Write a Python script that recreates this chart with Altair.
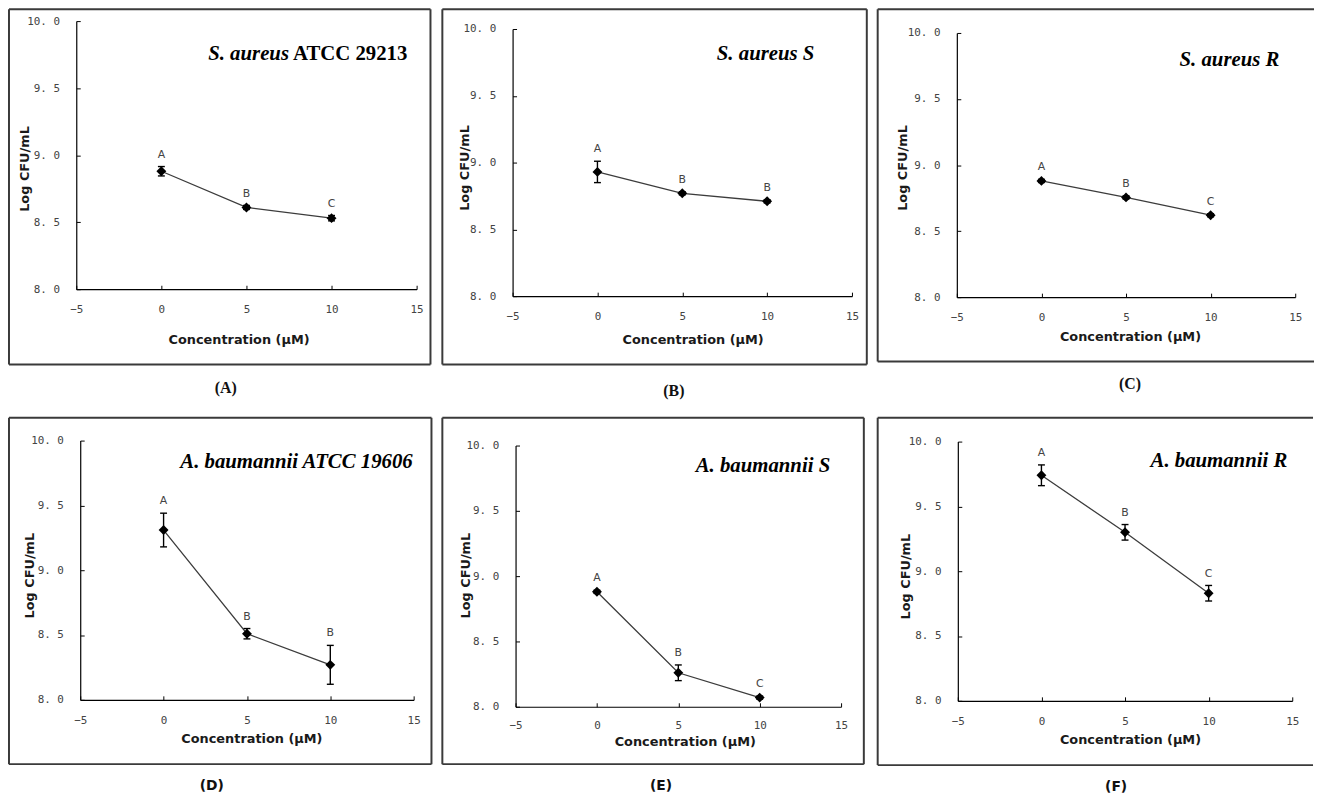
import altair as alt
import pandas as pd

# ---------------- data ----------------
conc = [0, 5, 10]
x_ticks = [-5, 0, 5, 10, 15]
y_ticks = [8.0, 8.5, 9.0, 9.5, 10.0]

panel_ids = ["A", "B", "C", "D", "E", "F"]
panel_labels = ["(A)", "(B)", "(C)", "(D)", "(E)", "(F)"]
title_italic = ["S. aureus", "S. aureus S", "S. aureus R",
                "A. baumannii ATCC 19606", "A. baumannii S", "A. baumannii R"]
title_upright = ["ATCC 29213", "", "", "", "", ""]

sa_atcc_mean = [8.88, 8.61, 8.53]
sa_atcc_err = [0.035, 0.015, 0.02]
sa_atcc_letters = ["A", "B", "C"]

sa_s_mean = [8.93, 8.77, 8.71]
sa_s_err = [0.08, 0.012, 0.012]
sa_s_letters = ["A", "B", "B"]

sa_r_mean = [8.88, 8.755, 8.62]
sa_r_err = [0.012, 0.012, 0.012]
sa_r_letters = ["A", "B", "C"]

ab_atcc_mean = [9.31, 8.51, 8.27]
ab_atcc_err = [0.13, 0.04, 0.15]
ab_atcc_letters = ["A", "B", "B"]

ab_s_mean = [8.88, 8.26, 8.07]
ab_s_err = [0.012, 0.06, 0.012]
ab_s_letters = ["A", "B", "C"]

ab_r_mean = [9.74, 9.30, 8.83]
ab_r_err = [0.08, 0.06, 0.06]
ab_r_letters = ["A", "B", "C"]

means = [sa_atcc_mean, sa_s_mean, sa_r_mean, ab_atcc_mean, ab_s_mean, ab_r_mean]
errs = [sa_atcc_err, sa_s_err, sa_r_err, ab_atcc_err, ab_s_err, ab_r_err]
letters = [sa_atcc_letters, sa_s_letters, sa_r_letters,
           ab_atcc_letters, ab_s_letters, ab_r_letters]

# ---------------- layout / style ----------------
# All positions are pixels relative to the top-left corner of each panel's frame.
# L/T: plot-area offset inside the frame, W/H: plot size, R/B: frame margins.
layout = {
    "A": dict(L=68, W=344, R=14, T=12, H=271, B=76, right=True, sx=283, sy=45,
              lx=219, ly=383, xtx=232, xty=45, ytx=-45, yty=161, serif=True, lpad=15),
    "B": dict(L=71, W=343, R=15, T=20, H=270, B=69, right=True, sx=376, sy=45,
              lx=234, ly=386, xtx=253, xty=38, ytx=-42, yty=160, serif=True, lpad=15),
    "C": dict(L=80, W=342, R=19, T=24, H=267, B=65, right=False, sx=406, sy=51,
              lx=255, ly=379, xtx=255, xty=34, ytx=-48, yty=160, serif=True, lpad=15),
    "D": dict(L=72, W=337, R=18, T=23, H=262, B=65, right=True, sx=408, sy=45,
              lx=205, ly=372, xtx=245, xty=33, ytx=-44, yty=159, serif=False, lpad=15),
    "E": dict(L=74, W=329, R=23, T=28, H=264, B=58, right=True, sx=392, sy=49,
              lx=221, ly=372, xtx=245, xty=29, ytx=-44, yty=159, serif=False, lpad=13),
    "F": dict(L=81, W=338, R=21, T=24, H=262, B=65, right=False, sx=414, sy=44,
              lx=241, ly=373, xtx=255, xty=33, ytx=-46, yty=160, serif=False, lpad=15),
}

BORDER = "#3a3a3a"
one_row = [{"k": 1}]


def border_layers(p):
    L, W, R, T, H, B = p["L"], p["W"], p["R"], p["T"], p["H"], p["B"]
    right_x = L + W + R
    bottom_y = T + H + B
    base = alt.Chart(alt.Data(values=one_row))
    out = [
        base.mark_rule(color=BORDER, strokeWidth=2).encode(
            x=alt.value(0), x2=alt.value(right_x), y=alt.value(0)),
        base.mark_rule(color=BORDER, strokeWidth=2).encode(
            x=alt.value(0), x2=alt.value(right_x), y=alt.value(bottom_y)),
        base.mark_rule(color=BORDER, strokeWidth=2).encode(
            x=alt.value(0), y=alt.value(0), y2=alt.value(bottom_y)),
    ]
    if p["right"]:
        out.append(base.mark_rule(color=BORDER, strokeWidth=2).encode(
            x=alt.value(right_x), y=alt.value(0), y2=alt.value(bottom_y)))
    return out


def panel(i):
    p = layout[panel_ids[i]]
    L, W, T, H = p["L"], p["W"], p["T"], p["H"]
    df = pd.DataFrame({
        "x": conc,
        "y": means[i],
        "lo": [m - e for m, e in zip(means[i], errs[i])],
        "hi": [m + e for m, e in zip(means[i], errs[i])],
        "lab": letters[i],
    })
    xs = alt.Scale(domain=[-5, 15], nice=False, zero=False, range=[L, L + W])
    ys = alt.Scale(domain=[8, 10], nice=False, zero=False, range=[T + H, T])
    base = alt.Chart(df)

    x_axis = alt.Axis(values=x_ticks, ticks=False, grid=False, domainColor="#000",
                      domainWidth=1.2, labelFont="DejaVu Sans Mono", labelFontSize=11,
                      labelColor="#444", labelPadding=p["lpad"], labelFlush=False,
                      title="Concentration (µM)", titleFont="DejaVu Sans",
                      titleFontSize=13, titleFontWeight="bold", titleColor="#1a1a1a",
                      titleX=p["xtx"], titleY=p["xty"])
    y_axis = alt.Axis(values=y_ticks, ticks=False, grid=False, domainColor="#000",
                      domainWidth=1.2, offset=-L,
                      labelFont="DejaVu Sans Mono", labelFontSize=11,
                      labelColor="#444", labelPadding=17, labelFlush=False,
                      labelExpr="replace(format(datum.value, '.1f'), '.', '. ')",
                      title="Log CFU/mL", titleFont="DejaVu Sans", titleFontSize=13,
                      titleFontWeight="bold", titleColor="#1a1a1a",
                      titleX=p["ytx"], titleY=p["yty"])

    line = base.mark_line(color="#3c3c3c", strokeWidth=1.3).encode(
        x=alt.X("x:Q", scale=xs, axis=x_axis),
        y=alt.Y("y:Q", scale=ys, axis=y_axis),
    )
    # inward tick marks (Excel style) via secondary axes moved onto the plot edges
    pts = base.mark_point(shape="diamond", filled=True, size=100, color="#000",
                          opacity=1).encode(
        x=alt.X("x:Q", scale=xs,
                axis=alt.Axis(orient="top", offset=-(T + H), values=x_ticks,
                              labels=False, domain=False, ticks=True, tickSize=4,
                              tickColor="#000", tickWidth=1, title=None, grid=False)),
        y=alt.Y("y:Q", scale=ys,
                axis=alt.Axis(orient="right", offset=-W, values=y_ticks, labels=False,
                              domain=False, ticks=True, tickSize=4, tickColor="#000",
                              tickWidth=1, title=None, grid=False)),
    )
    err = base.mark_rule(color="#000", strokeWidth=1.4).encode(
        x=alt.X("x:Q", scale=xs, axis=None),
        y=alt.Y("lo:Q", scale=ys, axis=None),
        y2="hi:Q",
    )
    cap_lo = base.mark_rule(color="#000", strokeWidth=1.4, xOffset=-3.5,
                            x2Offset=3.5).encode(
        x=alt.X("x:Q", scale=xs, axis=None), x2="x:Q",
        y=alt.Y("lo:Q", scale=ys, axis=None),
    )
    cap_hi = base.mark_rule(color="#000", strokeWidth=1.4, xOffset=-3.5,
                            x2Offset=3.5).encode(
        x=alt.X("x:Q", scale=xs, axis=None), x2="x:Q",
        y=alt.Y("hi:Q", scale=ys, axis=None),
    )
    lett = base.mark_text(dy=-12, font="DejaVu Sans", fontSize=11,
                          color="#444").encode(
        x=alt.X("x:Q", scale=xs, axis=None),
        y=alt.Y("hi:Q", scale=ys, axis=None),
        text="lab:N",
    )

    layers = border_layers(p) + [line, err, cap_lo, cap_hi, pts, lett]

    # species title
    ital = dict(baseline="middle", font="Liberation Serif", fontSize=21,
                fontStyle="italic", fontWeight="bold", color="#000")
    if title_upright[i]:
        layers.append(alt.Chart(alt.Data(values=[{"t": title_italic[i]}])).mark_text(
            align="right", **ital).encode(
            x=alt.value(p["sx"]), y=alt.value(p["sy"]), text="t:N"))
        layers.append(alt.Chart(alt.Data(values=[{"t": title_upright[i]}])).mark_text(
            align="left", baseline="middle", font="Liberation Serif", fontSize=21,
            fontWeight="bold", color="#000").encode(
            x=alt.value(p["sx"] + 4), y=alt.value(p["sy"]), text="t:N"))
    else:
        layers.append(alt.Chart(alt.Data(values=[{"t": title_italic[i]}])).mark_text(
            align="right", **ital).encode(
            x=alt.value(p["sx"]), y=alt.value(p["sy"]), text="t:N"))

    # panel label
    if p["serif"]:
        lab_font, lab_size = "Liberation Serif", 16
    else:
        lab_font, lab_size = "DejaVu Sans", 14
    layers.append(alt.Chart(alt.Data(values=[{"t": panel_labels[i]}])).mark_text(
        align="center", baseline="middle", font=lab_font, fontSize=lab_size,
        fontWeight="bold", color="#111").encode(
        x=alt.value(p["lx"]), y=alt.value(p["ly"]), text="t:N"))

    return alt.layer(*layers).resolve_axis(x="independent", y="independent").properties(
        width=L + W, height=T + H)


panels = [panel(i) for i in range(6)]

chart = alt.concat(*panels, columns=3, spacing={"row": 18, "column": 9},
                   align="none",
                   padding={"top": -4, "left": 0, "right": 0, "bottom": 0}).properties(
    background="white",
).configure_view(stroke=None)

chart.save("out.html", embed_options={"renderer": "svg", "actions": False})
